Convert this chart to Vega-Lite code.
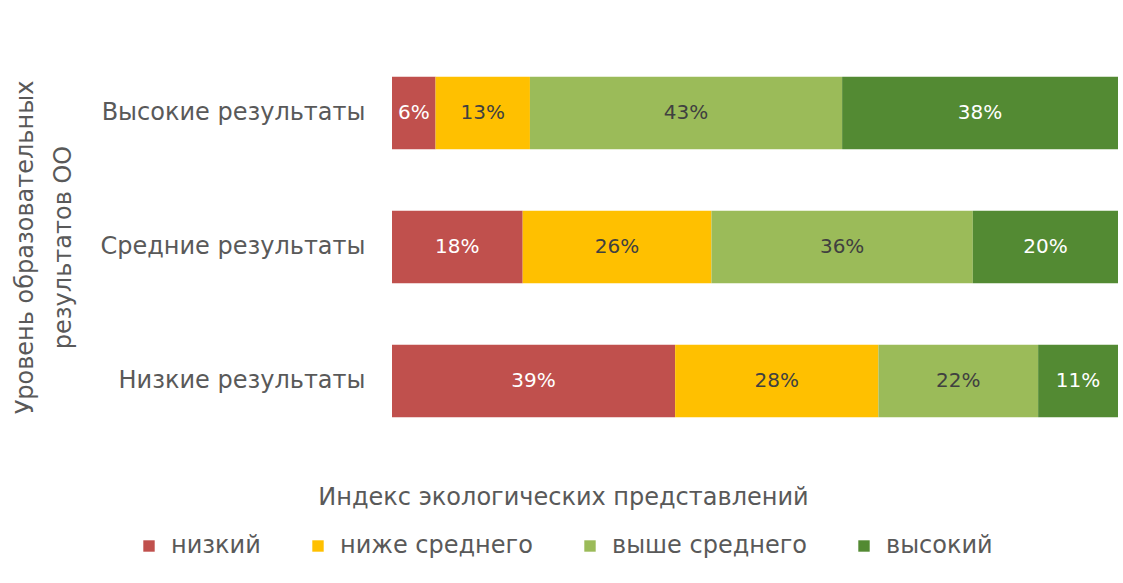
{
  "$schema": "https://vega.github.io/schema/vega-lite/v6.json",
  "autosize": {"type": "none"},
  "padding": {"left": 392, "top": 46, "right": 5, "bottom": 135},
  "width": 726,
  "height": 402,
  "background": "white",
  "config": {
    "view": {"stroke": null},
    "font": "DejaVu Sans"
  },
  "data": {
    "values": [
      {"group": "Высокие результаты", "level": "низкий", "k": 1, "value": 6},
      {"group": "Высокие результаты", "level": "ниже среднего", "k": 2, "value": 13},
      {"group": "Высокие результаты", "level": "выше среднего", "k": 3, "value": 43},
      {"group": "Высокие результаты", "level": "высокий", "k": 4, "value": 38},
      {"group": "Средние результаты", "level": "низкий", "k": 1, "value": 18},
      {"group": "Средние результаты", "level": "ниже среднего", "k": 2, "value": 26},
      {"group": "Средние результаты", "level": "выше среднего", "k": 3, "value": 36},
      {"group": "Средние результаты", "level": "высокий", "k": 4, "value": 20},
      {"group": "Низкие результаты", "level": "низкий", "k": 1, "value": 39},
      {"group": "Низкие результаты", "level": "ниже среднего", "k": 2, "value": 28},
      {"group": "Низкие результаты", "level": "выше среднего", "k": 3, "value": 22},
      {"group": "Низкие результаты", "level": "высокий", "k": 4, "value": 11}
    ]
  },
  "transform": [
    {"stack": "value", "groupby": ["group"], "sort": [{"field": "k", "order": "ascending"}], "as": ["v0", "v1"]},
    {"calculate": "(datum.v0 + datum.v1) / 2", "as": "mid"},
    {"calculate": "datum.value + '%'", "as": "lbl"}
  ],
  "encoding": {
    "y": {
      "field": "group",
      "type": "nominal",
      "sort": ["Высокие результаты", "Средние результаты", "Низкие результаты"],
      "scale": {"paddingInner": 0.46, "paddingOuter": 0.23},
      "axis": {
        "title": ["Уровень образовательных", "результатов ОО"],
        "titleFontSize": 24,
        "titleFontWeight": "normal",
        "titleColor": "#595959",
        "titleLineHeight": 38,
        "titleX": -367,
        "titleY": 201,
        "titleAngle": -90,
        "titleAlign": "center",
        "titleBaseline": "middle",
        "labelFontSize": 24,
        "labelColor": "#595959",
        "labelPadding": 27,
        "labelLimit": 400,
        "ticks": false,
        "domain": false,
        "grid": false
      }
    }
  },
  "layer": [
    {
      "mark": {"type": "bar"},
      "encoding": {
        "x": {
          "field": "v0",
          "type": "quantitative",
          "scale": {"domain": [0, 100], "nice": false},
          "axis": {
            "title": "Индекс экологических представлений",
            "labels": false,
            "ticks": false,
            "domain": false,
            "grid": false,
            "titleFontSize": 24,
            "titleFontWeight": "normal",
            "titleColor": "#595959",
            "titleX": 171,
            "titleY": 49,
            "titleAlign": "center",
            "titleBaseline": "middle"
          }
        },
        "x2": {"field": "v1"},
        "color": {
          "field": "level",
          "type": "nominal",
          "sort": ["низкий", "ниже среднего", "выше среднего", "высокий"],
          "scale": {
            "domain": ["низкий", "ниже среднего", "выше среднего", "высокий"],
            "range": ["#c0504d", "#ffc000", "#9bbb59", "#538a33"]
          },
          "legend": {
            "title": null,
            "orient": "none",
            "direction": "horizontal",
            "legendX": -255,
            "legendY": 488,
            "symbolType": "square",
            "symbolSize": 130,
            "symbolStrokeWidth": 0,
            "labelFontSize": 24,
            "labelColor": "#595959",
            "labelOffset": 10,
            "columnPadding": 45,
            "labelLimit": 400
          }
        }
      }
    },
    {
      "mark": {"type": "text", "fontSize": 20, "align": "center", "baseline": "middle"},
      "encoding": {
        "x": {"field": "mid", "type": "quantitative"},
        "text": {"field": "lbl"},
        "color": {
          "condition": {"test": "datum.k == 1 || datum.k == 4", "value": "white"},
          "value": "#404040"
        }
      }
    }
  ]
}
